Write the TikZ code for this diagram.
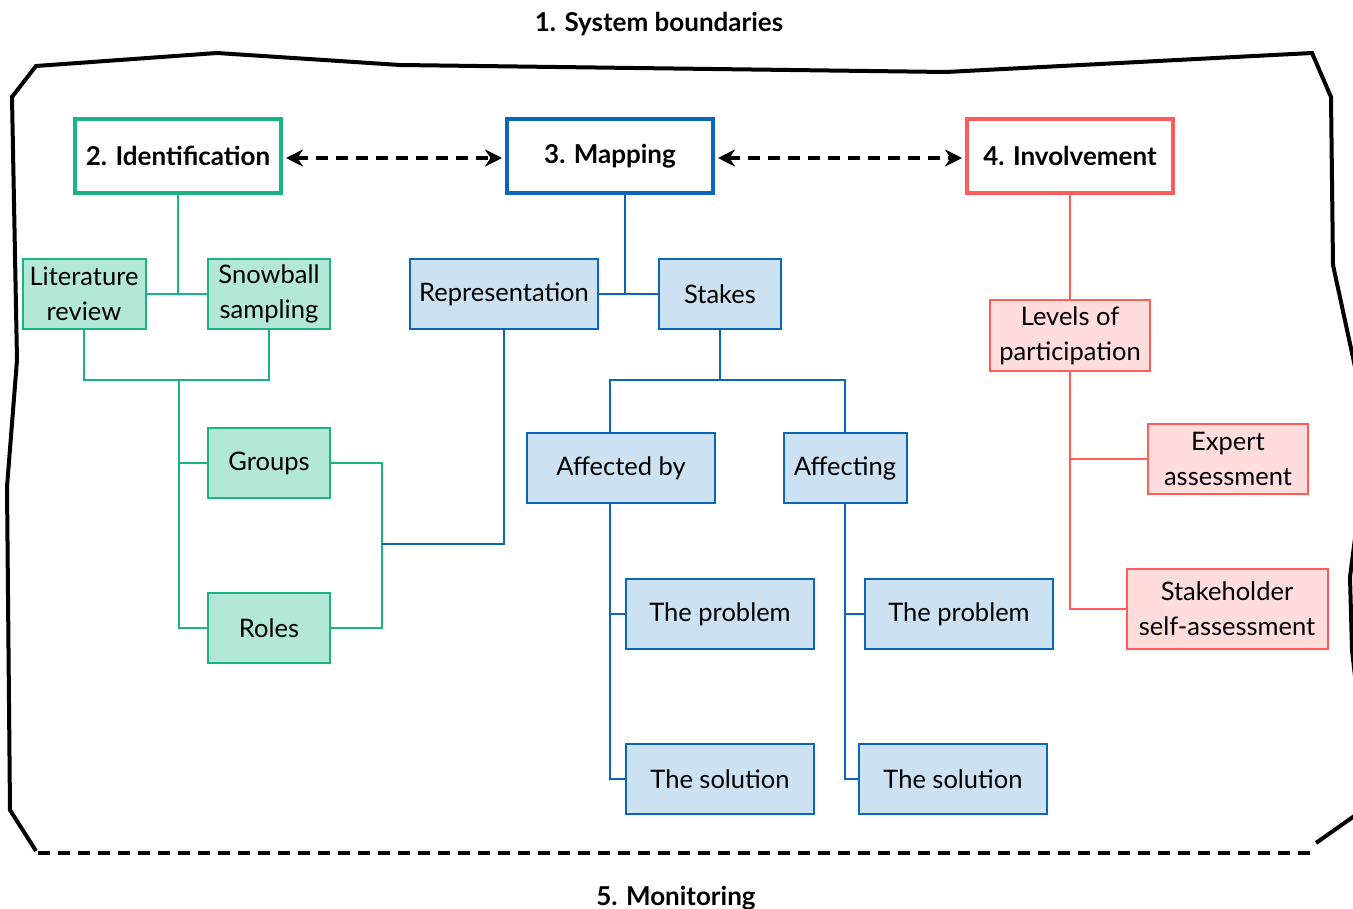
\documentclass[tikz,border=0pt]{standalone}
\usepackage{fontspec}
\setmainfont{Lato}
\usetikzlibrary{arrows.meta}
\definecolor{gS}{HTML}{1AB386}
\definecolor{gF}{HTML}{B3E8D7}
\definecolor{bS}{HTML}{0A66B8}
\definecolor{bF}{HTML}{CCE1F2}
\definecolor{rS}{HTML}{FF5C5C}
\definecolor{rF}{HTML}{FFDDDD}
\tikzset{
  txt/.style={font=\fontsize{25.5}{35}\selectfont, align=center, inner sep=0pt},
  mainbox/.style={txt, font=\fontsize{26}{35}\selectfont\bfseries, line width=4pt, fill=white},
  subbox/.style={txt, line width=2pt},
  gbox/.style={subbox, draw=gS, fill=gF},
  bbox/.style={subbox, draw=bS, fill=bF},
  rbox/.style={subbox, draw=rS, fill=rF},
  gl/.style={draw=gS, line width=2pt},
  bl/.style={draw=bS, line width=2pt},
  rl/.style={draw=rS, line width=2pt},
  darrow/.style={line width=4pt, dash pattern=on 12pt off 8pt, {Stealth[length=17pt,width=17pt]}-{Stealth[length=17pt,width=17pt]}},
  title/.style={font=\fontsize{26}{30}\selectfont\bfseries, inner sep=0pt},
}
\begin{document}
\begin{tikzpicture}[x=1pt,y=-1pt]
\useasboundingbox (0,0) rectangle (1353,909);
\begin{scope}
\clip (0,0) rectangle (1353,909);
\draw[line width=4pt, line join=miter] (1360,720) -- (1352,650) -- (1350,577) -- (1360,500);
\draw[line width=4pt, line join=miter] (1360,390) -- (1333,265) -- (1331,97) -- (1312,53) -- (946,72) -- (400,65) -- (217,53) -- (36,66) -- (12,97) -- (17,360) -- (7,487) -- (10,810) -- (36,851);
\draw[line width=4pt] (1316,843) -- (1360,812);
\draw[line width=4pt, dash pattern=on 12pt off 8pt] (38,853) -- (1316,853);
\end{scope}

\node[title] (sysb) at (659,24) {1. System boundaries};
\node[title] (mon) at (676,898) {5. Monitoring};

% main boxes
\node[mainbox, draw=gS, minimum width=206pt, minimum height=74pt] (ident) at (178,156) {2. Identification};
\node[mainbox, draw=bS, minimum width=206pt, minimum height=74pt] (map) at (610,156) {3. Mapping};
\node[mainbox, draw=rS, minimum width=206pt, minimum height=74pt] (inv) at (1070,156) {4. Involvement};

\draw[darrow, shorten <=3pt, shorten >=3pt] ([yshift=-2pt]ident.east) -- ([yshift=-2pt]map.west);
\draw[darrow, shorten <=3pt, shorten >=3pt] ([yshift=-2pt]map.east) -- ([yshift=-2pt]inv.west);

% identification
\node[gbox, minimum width=123pt, minimum height=70pt] (lit) at (84,294) {Literature\\review};
\node[gbox, minimum width=122pt, minimum height=70pt] (snow) at (269,294) {Snowball\\sampling};
\node[gbox, minimum width=122pt, minimum height=70pt] (groups) at (269,463) {Groups};
\node[gbox, minimum width=122pt, minimum height=70pt] (roles) at (269,628) {Roles};

\coordinate (j1) at (179,380);
\coordinate (j2) at (382,544);
\draw[gl] (ident.south) -- (ident.south |- lit.east);
\draw[gl] (lit.east) -- (snow.west);
\draw[gl] (lit.south) |- (j1) -| (snow.south);
\draw[gl] (j1) |- (groups.west);
\draw[gl] (j1) |- (roles.west);

% mapping
\node[bbox, minimum width=188pt, minimum height=70pt] (repr) at (504,294) {Representation};
\node[bbox, minimum width=122pt, minimum height=70pt] (stakes) at (720,294) {Stakes};
\node[bbox, minimum width=188pt, minimum height=70pt] (affby) at (621,468) {Affected by};
\node[bbox, minimum width=123pt, minimum height=70pt] (affing) at (845,468) {Affecting};
\node[bbox, minimum width=188pt, minimum height=70pt] (prob1) at (720,614) {The problem};
\node[bbox, minimum width=188pt, minimum height=70pt] (sol1) at (720,779) {The solution};
\node[bbox, minimum width=188pt, minimum height=70pt] (prob2) at (959,614) {The problem};
\node[bbox, minimum width=188pt, minimum height=70pt] (sol2) at (953,779) {The solution};

\draw[gl] (groups.east) -| (j2) |- (roles.east);
\draw[bl] (j2) -| (repr.south);

\coordinate (j3) at (625,294);
\draw[bl] (map.south -| j3) -- (j3);
\draw[bl] (repr.east) -- (stakes.west);

\coordinate (a1) at (610,380);
\coordinate (a2) at (845,380);
\draw[bl] (stakes.south) -- (stakes.south |- a1);
\draw[bl] (a1 |- affby.north) -- (a1) -- (a2) -- (a2 |- affing.north);
\draw[bl] (a1 |- affby.south) |- (prob1.west);
\draw[bl] (a1 |- affby.south) |- (sol1.west);
\draw[bl] (affing.south) |- (prob2.west);
\draw[bl] (affing.south) |- (sol2.west);

% involvement
\node[rbox, minimum width=160pt, minimum height=71pt] (lev) at (1070,336) {Levels of\\participation};
\node[rbox, minimum width=160pt, minimum height=70pt] (exp) at (1228,459) {Expert\\assessment};
\node[rbox, minimum width=201pt, minimum height=80pt] (stk) at (1227,609) {Stakeholder\\self-assessment};

\draw[rl] (inv.south) -- (lev.north);
\draw[rl] (lev.south) |- (exp.west);
\draw[rl] (lev.south) |- (stk.west);
\end{tikzpicture}
\end{document}
